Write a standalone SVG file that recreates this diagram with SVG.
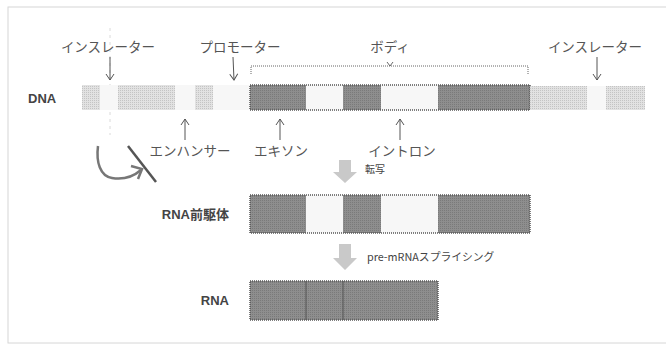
<svg xmlns="http://www.w3.org/2000/svg" width="666" height="345" viewBox="0 0 666 345">
<defs>
<pattern id="dots" width="2" height="2" patternUnits="userSpaceOnUse"><rect width="2" height="2" fill="#e2e2e2"/><rect width="1" height="1" fill="#c4c4c4"/></pattern>
<pattern id="exon" width="2" height="2" patternUnits="userSpaceOnUse"><rect width="2" height="2" fill="#8e8e8e"/><rect width="1" height="1" fill="#7a7a7a"/></pattern>
<marker id="ah" markerWidth="12" markerHeight="12" refX="10" refY="6" orient="auto" markerUnits="userSpaceOnUse"><path d="M4,2 L10,6 L4,10" fill="none" stroke="#555" stroke-width="1"/></marker>
</defs>
<style>
.lbl{font-family:"Noto Sans CJK JP","Liberation Sans",sans-serif;font-size:13.5px;fill:#555;text-anchor:middle}
.b{font-family:"Liberation Sans","Noto Sans CJK JP",sans-serif;font-weight:bold;font-size:13px;fill:#444}
.sm{font-family:"Noto Sans CJK JP","Liberation Sans",sans-serif;font-size:10px;fill:#444}
.ex{fill:url(#exon)}
.wh{fill:#f7f7f7}
.fl{fill:url(#dots)}
.ar{stroke:#555;stroke-width:1;fill:none;marker-end:url(#ah)}
.body{fill:none;stroke:#555;stroke-width:1.5;stroke-dasharray:1 1}
.big{fill:#c9c9c9}
</style>
<rect x="8" y="7" width="660" height="336" fill="#fff" stroke="#d6d6d6" stroke-width="1"/>
<line x1="110" y1="28" x2="110" y2="135" stroke="#dadada" stroke-width="1" stroke-dasharray="3 4"/>

<g id="labels-top">
<text class="lbl" x="108" y="52">インスレーター</text>
<text class="lbl" x="240" y="52">プロモーター</text>
<text class="lbl" x="390" y="52">ボディ</text>
<text class="lbl" x="595" y="52">インスレーター</text>
</g>

<g id="body-bracket">
<path d="M251,74 L251,66 L528,66 L528,74" fill="none" stroke="#666" stroke-width="1" stroke-dasharray="1 1"/>
<path d="M387,62 L390,66 L393,62" fill="none" stroke="#666" stroke-width="1"/>
</g>

<g id="dna">
<text class="b" x="28" y="103">DNA</text>
<rect class="fl" x="82" y="85" width="168" height="25"/>
<rect class="wh" x="100" y="85" width="18" height="25"/>
<rect class="wh" x="175" y="85" width="20" height="25"/>
<rect class="wh" x="213" y="85" width="37" height="25"/>
<rect class="ex" x="250" y="85" width="56" height="25"/>
<rect class="wh" x="306" y="85" width="37" height="25"/>
<rect class="ex" x="343" y="85" width="38" height="25"/>
<rect class="wh" x="381" y="85" width="57" height="25"/>
<rect class="ex" x="438" y="85" width="92" height="25"/>
<rect class="body" x="250" y="85" width="280" height="25"/>
<rect class="fl" x="530" y="86" width="115" height="24"/>
<rect class="wh" x="587" y="86" width="19" height="24"/>
</g>

<g id="connectors">
<line class="ar" x1="110" y1="57" x2="110" y2="80"/>
<line class="ar" x1="233" y1="57" x2="234" y2="80"/>
<line class="ar" x1="597" y1="57" x2="597" y2="80"/>
<line class="ar" x1="185" y1="140" x2="185" y2="119"/>
<line class="ar" x1="280" y1="140" x2="280" y2="119"/>
<line class="ar" x1="400" y1="140" x2="400" y2="119"/>
<path d="M98,146 C96,162 100,176 112,178 C124,180 134,176 141,170" fill="none" stroke="#777" stroke-width="2.5"/>
<path d="M131,166 L142,169 L138,179" fill="none" stroke="#777" stroke-width="2.5"/>
<line x1="128" y1="146" x2="156" y2="182" stroke="#555" stroke-width="2.5"/>
<path class="big" d="M339,160 L351,160 L351,172 L357,172 L345,183 L333,172 L339,172 Z"/>
<path class="big" d="M339,244 L351,244 L351,258 L357,258 L345,270 L333,258 L339,258 Z"/>
</g>

<g id="labels-bottom">
<text class="lbl" x="190" y="156">エンハンサー</text>
<text class="lbl" x="281" y="156">エキソン</text>
<text class="lbl" x="402" y="156">イントロン</text>
<text class="sm" x="365" y="173">転写</text>
<text class="sm" x="367" y="261" style="font-size:10.8px">pre-mRNAスプライシング</text>
</g>

<g id="rna-precursor">
<text class="b" x="229" y="219" text-anchor="end">RNA前駆体</text>
<rect class="ex" x="250" y="195" width="56" height="38"/>
<rect class="wh" x="306" y="195" width="37" height="38"/>
<rect class="ex" x="343" y="195" width="38" height="38"/>
<rect class="wh" x="381" y="195" width="57" height="38"/>
<rect class="ex" x="438" y="195" width="92" height="38"/>
<rect class="body" x="250" y="195" width="280" height="38"/>
</g>

<g id="rna">
<text class="b" x="229" y="305" text-anchor="end">RNA</text>
<rect class="ex" x="250" y="281" width="188" height="39"/>
<line x1="306" y1="281" x2="306" y2="320" stroke="#555" stroke-width="1"/>
<line x1="343" y1="281" x2="343" y2="320" stroke="#555" stroke-width="1"/>
<rect class="body" x="250" y="281" width="188" height="39"/>
</g>
</svg>
